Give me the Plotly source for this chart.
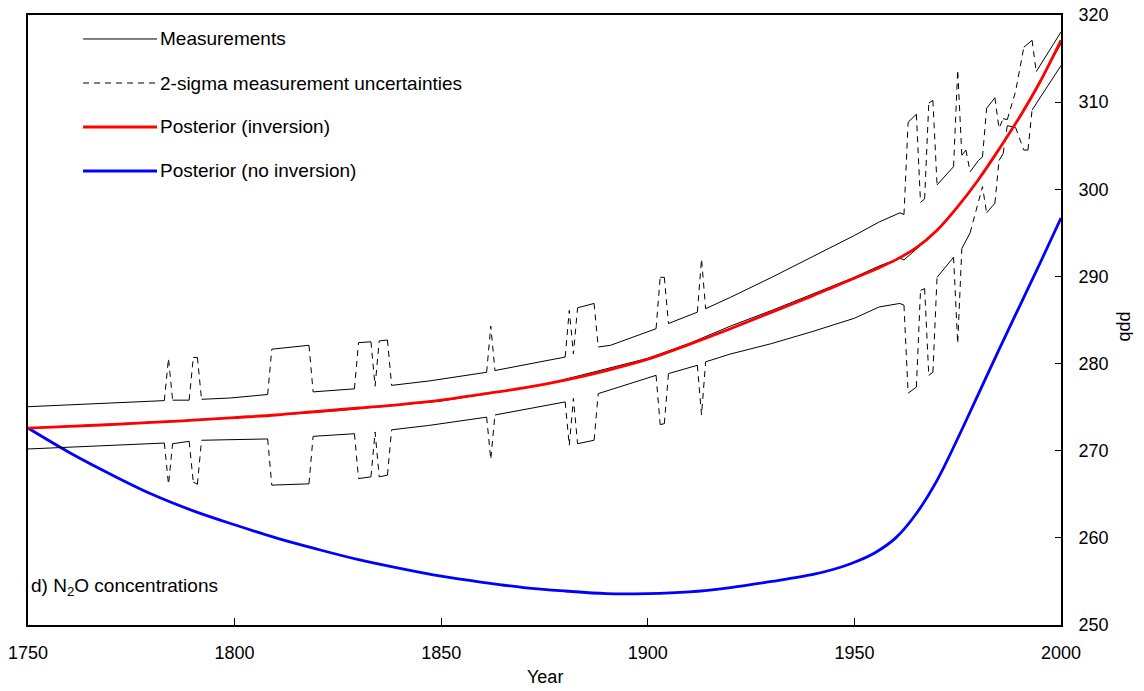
import plotly.graph_objects as go

# ---- data -------------------------------------------------------------
# Upper bound of the ice-core record (measurement + 2 sigma), ppb
upper_years = [1750, 1765, 1783, 1784, 1785, 1789, 1790, 1791, 1792, 1799,
               1808, 1809, 1818, 1819, 1829, 1830, 1833, 1834, 1835, 1837,
               1838, 1847, 1861, 1862, 1863, 1880, 1881, 1882, 1883, 1887,
               1888, 1891, 1902, 1903, 1904, 1905, 1912, 1913, 1914, 1920,
               1930, 1940, 1950, 1956, 1961, 1962, 1963, 1965, 1966, 1967,
               1968, 1969, 1970, 1974, 1975, 1976, 1977, 1978, 1980, 1981,
               1982, 1984, 1985, 1986, 1987, 1989, 1991, 1993, 1994, 2000]
upper_ppb = [275.05, 275.4, 275.75, 280.6, 275.8, 275.8, 280.7, 280.7, 275.9, 276.05,
             276.45, 281.65, 282.1, 276.75, 277.1, 282.4, 282.5, 277.4, 282.6, 282.7,
             277.5, 278.0, 279.0, 284.3, 279.2, 280.75, 286.1, 281.1, 286.4, 286.9,
             281.9, 282.1, 284.0, 289.9, 289.9, 284.6, 285.9, 292.0, 286.3, 287.6,
             289.9, 292.3, 294.7, 296.25, 297.3, 297.1, 307.7, 308.6, 298.5, 298.9,
             309.9, 310.2, 300.5, 302.6, 313.7, 303.9, 304.5, 302.0, 303.3, 303.7,
             309.3, 310.5, 307.0, 308.1, 308.0, 311.2, 316.3, 317.1, 313.5, 318.05]

# Lower bound of the ice-core record (measurement - 2 sigma), ppb
lower_years = [1750, 1765, 1783, 1784, 1785, 1789, 1790, 1791, 1792, 1799,
               1808, 1809, 1818, 1819, 1829, 1830, 1833, 1834, 1835, 1837,
               1838, 1847, 1861, 1862, 1863, 1880, 1881, 1882, 1883, 1887,
               1888, 1902, 1903, 1904, 1905, 1912, 1913, 1914, 1920, 1930,
               1940, 1950, 1956, 1961, 1962, 1963, 1965, 1966, 1967, 1968,
               1969, 1970, 1974, 1975, 1976, 1978, 1980, 1981, 1982, 1984,
               1985, 1986, 1987, 1989, 1991, 1992, 1993, 2000]
lower_ppb = [270.2, 270.5, 270.88, 266.15, 270.8, 271.08, 266.4, 266.15, 271.2, 271.27,
             271.35, 266.05, 266.2, 271.65, 271.95, 266.8, 267.0, 272.15, 267.0, 267.2,
             272.4, 272.9, 273.85, 269.0, 274.1, 275.6, 270.6, 276.0, 270.8, 271.2,
             276.55, 278.65, 273.0, 273.1, 278.85, 279.8, 274.1, 280.2, 281.1, 282.3,
             283.7, 285.2, 286.5, 286.9, 286.7, 276.6, 277.3, 288.4, 288.6, 278.65,
             279.0, 289.9, 292.2, 282.3, 293.2, 295.0, 298.5, 300.3, 297.3, 298.4,
             303.3, 304.1, 307.3, 307.1, 304.5, 304.5, 309.1, 314.2]

# Measurements (centre of the record)
meas_years = [1750, 1775, 1800, 1825, 1850, 1875, 1900, 1910, 1920, 1930,
              1940, 1950, 1956, 1961, 1962, 1965, 1970, 1975, 1980, 1985,
              1990, 1995, 2000]
meas_ppb = [272.6, 273.2, 273.75, 274.6, 275.7, 277.6, 280.6, 282.3, 284.3, 286.1,
            288.0, 289.9, 291.2, 292.1, 291.9, 293.1, 295.2, 298.0, 301.0, 304.6,
            308.3, 312.5, 316.7]

# Model posterior concentrations
post_years = [1750, 1760, 1770, 1780, 1790, 1800, 1810, 1820, 1830, 1840,
              1850, 1860, 1870, 1880, 1890, 1900, 1910, 1920, 1930, 1940,
              1945, 1950, 1955, 1960, 1965, 1970, 1975, 1980, 1985, 1990,
              1995, 2000]
post_inversion = [272.6, 272.8, 273.0, 273.25, 273.5, 273.8, 274.1, 274.5, 274.9, 275.3,
                  275.8, 276.5, 277.2, 278.1, 279.2, 280.5, 282.2, 284.0, 285.9, 287.8,
                  288.8, 289.8, 290.8, 291.9, 293.3, 295.3, 298.0, 301.1, 304.6, 308.3,
                  312.4, 317.1]
post_no_inversion = [272.6, 269.8, 267.3, 265.0, 263.1, 261.5, 260.0, 258.7, 257.5, 256.5,
                     255.6, 254.9, 254.3, 253.9, 253.6, 253.6, 253.8, 254.3, 255.0, 255.8,
                     256.4, 257.2, 258.3, 260.0, 262.8, 266.6, 271.4, 276.5, 281.6, 286.6,
                     291.6, 296.7]

x_ticks = [1750, 1800, 1850, 1900, 1950, 2000]
y_ticks = [250, 260, 270, 280, 290, 300, 310, 320]

legend_labels = ["Measurements", "2-sigma measurement uncertainties",
                 "Posterior (inversion)", "Posterior (no inversion)"]

FONT = "Liberation Sans, Arial, sans-serif"
DASH = "6px,5px"


def split_by_steepness(xs, ys, limit=1.0):
    """Steep jumps of the uncertainty band are drawn dashed, the rest solid."""
    parts = {False: ([], []), True: ([], [])}
    for i in range(len(xs) - 1):
        steep = abs((ys[i + 1] - ys[i]) / (xs[i + 1] - xs[i])) > limit
        px, py = parts[steep]
        if px and px[-1] == xs[i] and py[-1] == ys[i]:
            px.append(xs[i + 1])
            py.append(ys[i + 1])
        else:
            if px:
                px.append(None)
                py.append(None)
            px.extend([xs[i], xs[i + 1]])
            py.extend([ys[i], ys[i + 1]])
    return parts[False], parts[True]


fig = go.Figure()

fig.add_trace(go.Scatter(x=post_years, y=post_no_inversion, mode="lines",
                         line=dict(color="#0000FF", width=2.8, shape="spline"),
                         name=legend_labels[3], showlegend=False))

for xs, ys in ((upper_years, upper_ppb), (lower_years, lower_ppb)):
    (sx, sy), (dx, dy) = split_by_steepness(xs, ys)
    fig.add_trace(go.Scatter(x=sx, y=sy, mode="lines", connectgaps=False,
                             line=dict(color="black", width=1),
                             showlegend=False, hoverinfo="skip"))
    fig.add_trace(go.Scatter(x=dx, y=dy, mode="lines", connectgaps=False,
                             line=dict(color="black", width=1, dash=DASH),
                             name=legend_labels[1], showlegend=False))

fig.add_trace(go.Scatter(x=meas_years, y=meas_ppb, mode="lines",
                         line=dict(color="black", width=1),
                         name=legend_labels[0], showlegend=False))

fig.add_trace(go.Scatter(x=post_years, y=post_inversion, mode="lines",
                         line=dict(color="#FF0000", width=2.8, shape="spline"),
                         name=legend_labels[2], showlegend=False))

# ---- hand-drawn legend in the upper-left corner ------------------------
legend_styles = [dict(color="black", width=1),
                 dict(color="black", width=1, dash=DASH),
                 dict(color="#FF0000", width=2.8),
                 dict(color="#0000FF", width=2.8)]
legend_rows_y = [0.9607, 0.8885, 0.8164, 0.7443]
shapes = []
annotations = []
for label, style, yy in zip(legend_labels, legend_styles, legend_rows_y):
    shapes.append(dict(type="line", xref="paper", yref="paper",
                       x0=0.0533, x1=0.1249, y0=yy, y1=yy, line=style))
    annotations.append(dict(text=label, xref="paper", yref="paper",
                            x=0.1262, y=yy, xanchor="left", yanchor="middle",
                            showarrow=False, font=dict(size=19, color="black")))

annotations.append(dict(text="d) N<sub>2</sub>O concentrations", xref="paper", yref="paper",
                        x=0.001, y=0.062, xanchor="left", yanchor="middle",
                        showarrow=False, font=dict(size=19, color="black")))
annotations.append(dict(text="Year", xref="paper", yref="paper",
                        x=0.5, y=-0.085, xanchor="center", yanchor="middle",
                        showarrow=False, font=dict(size=18, color="black")))
annotations.append(dict(text="ppb", xref="paper", yref="paper",
                        x=1.0625, y=0.49, xanchor="center", yanchor="middle",
                        textangle=90, showarrow=False,
                        font=dict(size=18, color="black")))

fig.update_layout(
    width=1144, height=691,
    margin=dict(l=28, r=83, t=15, b=66),
    paper_bgcolor="white", plot_bgcolor="white",
    font=dict(family=FONT, size=18, color="black"),
    showlegend=False,
    shapes=shapes,
    annotations=annotations,
    xaxis=dict(range=[1750, 2000], tickvals=x_ticks, ticktext=[str(v) for v in x_ticks],
               showgrid=False, zeroline=False, automargin=False,
               showline=True, linecolor="black", linewidth=2, mirror=True,
               ticks="inside", ticklen=7, tickwidth=1, tickcolor="black",
               ticklabelstandoff=10),
    yaxis=dict(range=[250, 320], tickvals=y_ticks, ticktext=[str(v) for v in y_ticks],
               side="right", showgrid=False, zeroline=False, automargin=False,
               showline=True, linecolor="black", linewidth=2, mirror=True,
               ticks="inside", ticklen=6, tickwidth=1, tickcolor="black",
               ticklabelstandoff=12),
)

fig.write_html("out.html")
